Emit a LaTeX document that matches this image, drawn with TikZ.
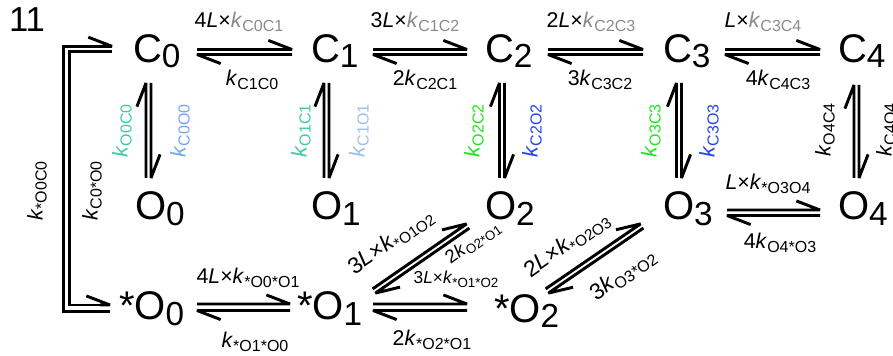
\documentclass[tikz,border=0pt]{standalone}
\usepackage{fontspec}
\setmainfont{Liberation Sans}
\usetikzlibrary{calc}
\definecolor{kgray}{HTML}{8A8A8A}
\definecolor{kteal}{HTML}{3DCC9E}
\definecolor{kblueA}{HTML}{74A6F4}
\definecolor{kblueB}{HTML}{9DBDF2}
\definecolor{kgreen}{HTML}{1EE61E}
\definecolor{kblue}{HTML}{2442F2}
\newcommand\nsub[1]{\raisebox{-4pt}{\fontsize{25}{25}\selectfont #1}}
\newcommand\kk[2][12]{\textit{k}\raisebox{-3pt}{\fontsize{#1}{#1}\selectfont #2}}
\newcommand\hp[4]{%
  \path ($(#1)+(#2)$) coordinate (hs) ($(#3)+(#4)$) coordinate (he);
  \draw[ln] (hs) -- (he) -- ($(he)!19pt!-21:(hs)$);}
\tikzset{
  ln/.style={line width=2.2pt, line join=bevel},
  lnL/.style={line width=2.2pt, line join=miter},
  st/.style={inner sep=0pt, outer sep=0pt, anchor=base west, font=\fontsize{30}{30}\selectfont},
  lab/.style={inner sep=0pt, outer sep=0pt, font=\fontsize{16}{16}\selectfont},
}
\begin{document}
\begin{tikzpicture}[x=0.75pt, y=-0.75pt]
\useasboundingbox (0,0) rectangle (893,356);
\node[inner sep=0pt, font=\fontsize{26}{26}\selectfont] (num) at (27,20) {11};
% states
\node[st] (C0) at (133,62.5) {C\nsub{0}};
\node[st] (C1) at (311,62.5) {C\nsub{1}};
\node[st] (C2) at (485,62.5) {C\nsub{2}};
\node[st] (C3) at (663,62.5) {C\nsub{3}};
\node[st] (C4) at (838,62.5) {C\nsub{4}};
\node[st] (O0) at (135,220) {O\nsub{0}};
\node[st] (O1) at (311,220) {O\nsub{1}};
\node[st] (O2) at (485,220) {O\nsub{2}};
\node[st] (O3) at (663,220) {O\nsub{3}};
\node[st] (O4) at (838,220) {O\nsub{4}};
\node[st] (sO0) at (119,320) {*O\nsub{0}};
\node[st] (sO1) at (297,320) {*O\nsub{1}};
\node[st] (sO2) at (494,322) {*O\nsub{2}};
% top row
\hp{C0.base west}{64,-13}{C1.base west}{-19,-13}
\hp{C1.base west}{-19,-8}{C0.base west}{64,-8}
\hp{C1.base west}{62,-13}{C2.base west}{-18,-13}
\hp{C2.base west}{-18,-8}{C1.base west}{62,-8}
\hp{C2.base west}{63,-13}{C3.base west}{-20,-13}
\hp{C3.base west}{-20,-8}{C2.base west}{63,-8}
\hp{C3.base west}{62,-13}{C4.base west}{-18,-13}
\hp{C4.base west}{-18,-8}{C3.base west}{62,-8}
% verticals
\hp{O0.base west}{11,-42}{C0.base west}{13,20.5}
\hp{C0.base west}{18,20.5}{O0.base west}{16,-42}
\hp{O1.base west}{13,-42}{C1.base west}{13,20.5}
\hp{C1.base west}{18,20.5}{O1.base west}{18,-42}
\hp{O2.base west}{14.5,-42}{C2.base west}{14.5,20.5}
\hp{C2.base west}{19.5,20.5}{O2.base west}{19.5,-42}
\hp{O3.base west}{13.5,-42}{C3.base west}{13.5,20.5}
\hp{C3.base west}{18.5,20.5}{O3.base west}{18.5,-42}
\hp{O4.base west}{16,-42}{C4.base west}{16,22.5}
\hp{C4.base west}{21,22.5}{O4.base west}{21,-42}
% O3-O4
\hp{O3.base west}{64,-10}{O4.base west}{-18,-10}
\hp{O4.base west}{-18,-4.5}{O3.base west}{64,-4.5}
% bottom row
\hp{sO0.base west}{78,-16}{sO1.base west}{-7,-16}
\hp{sO1.base west}{-7,-9.5}{sO0.base west}{78,-9.5}
\hp{sO1.base west}{76,-16}{sO2.base west}{-27,-18}
\hp{sO2.base west}{-27,-11.5}{sO1.base west}{76,-9.5}
% diagonals
\hp{sO1.base west}{75.6,-31.1}{O2.base west}{-18.4,3.9}
\hp{O2.base west}{-15.6,8.1}{sO1.base west}{78.4,-26.9}
\hp{sO2.base west}{51.6,-33.1}{O3.base west}{-22.4,3.9}
\hp{O3.base west}{-19.6,8.1}{sO2.base west}{54.4,-28.9}
% left L-shaped arrows
\coordinate (Lo1) at ($(sO0.base west)+(-9,-8.3)$);
\coordinate (Lo2) at ($(C0.base west)+(-21,-16.2)$);
\coordinate (Lo3) at ($(Lo2)+(-10,0)$);
\draw[lnL] (Lo1) -- ++(-46.5,0) |- (Lo2);
\draw[ln] (Lo3) -- (Lo2) -- ($(Lo2)!19pt!-21:(Lo3)$);
\coordinate (Li1) at ($(C0.base west)+(-21,-11.2)$);
\coordinate (Li2) at ($(sO0.base west)+(-9,-15)$);
\coordinate (Li3) at ($(Li2)+(-10,0)$);
\draw[lnL] (Li1) -- ++(-42.5,0) |- (Li2);
\draw[ln] (Li3) -- (Li2) -- ($(Li2)!19pt!-21:(Li3)$);
% labels top
\node[lab] (lC01) at (239,22) {4\textit{L}×\textcolor{kgray}{\kk{C0C1}}};
\node[lab] (lC10) at (252,80) {\kk{C1C0}};
\node[lab] (lC12) at (415,22) {3\textit{L}×\textcolor{kgray}{\kk{C1C2}}};
\node[lab] (lC21) at (425,80) {2\kk{C2C1}};
\node[lab] (lC23) at (591,22) {2\textit{L}×\textcolor{kgray}{\kk{C2C3}}};
\node[lab] (lC32) at (600,80) {3\kk{C3C2}};
\node[lab] (lC34) at (763,22) {\textit{L}×\textcolor{kgray}{\kk{C3C4}}};
\node[lab] (lC43) at (778,80) {4\kk{C4C3}};
% labels vertical
\node[lab,rotate=90,text=kteal] (lO0C0) at (122,131) {\kk{O0C0}};
\node[lab,rotate=90,text=kblueA] (lC0O0) at (180,131) {\kk{C0O0}};
\node[lab,rotate=90,text=kteal] (lO1C1) at (301,131) {\kk{O1C1}};
\node[lab,rotate=90,text=kblueB] (lC1O1) at (359,131) {\kk{C1O1}};
\node[lab,rotate=90,text=kgreen] (lO2C2) at (474,131) {\kk{O2C2}};
\node[lab,rotate=90,text=kblue] (lC2O2) at (532,131) {\kk{C2O2}};
\node[lab,rotate=90,text=kgreen] (lO3C3) at (651,131) {\kk{O3C3}};
\node[lab,rotate=90,text=kblue] (lC3O3) at (709,131) {\kk{C3O3}};
\node[lab,rotate=90] (lO4C4) at (825,130) {\kk{O4C4}};
\node[lab,rotate=90] (lC4O4) at (886,130) {\kk{C4O4}};
% left labels
\node[lab,rotate=90] (lsO0C0) at (37,191) {\kk{*O0C0}};
\node[lab,rotate=90] (lC0sO0) at (92,191) {\kk{C0*O0}};
% bottom labels
\node[lab] (ls01) at (248,278) {4\textit{L}×\kk{*O0*O1}};
\node[lab] (ls10) at (255,342) {\kk{*O1*O0}};
\node[lab, font=\fontsize{13}{13}\selectfont] (ls12) at (456,279) {3\textit{L}×\kk[10]{*O1*O2}};
\node[lab] (ls21) at (432,340) {2\kk{*O2*O1}};
\node[lab,rotate=35, font=\fontsize{17}{17}\selectfont] (ld12) at (391,242) {3\textit{L}×\kk[11.5]{*O1O2}};
\node[lab,rotate=35, font=\fontsize{14}{14}\selectfont] (ld21) at (473,243) {2\kk[10]{O2*O1}};
\node[lab,rotate=35, font=\fontsize{17}{17}\selectfont] (ld23) at (567,245) {2\textit{L}×\kk[11.5]{*O2O3}};
\node[lab,rotate=35, font=\fontsize{17}{17}\selectfont] (ld32) at (623,275) {3\kk{O3*O2}};
\node[lab] (l34) at (768,184) {\textit{L}×\kk{*O3O4}};
\node[lab] (l43) at (780,243) {4\kk{O4*O3}};
\end{tikzpicture}
\end{document}
